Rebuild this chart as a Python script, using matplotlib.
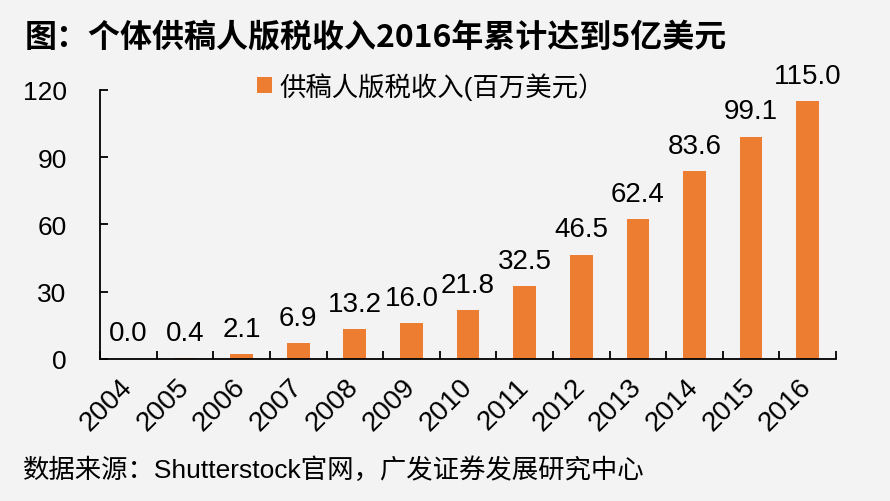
import matplotlib
matplotlib.use("Agg")
import matplotlib.pyplot as plt
import numpy as np

# data
years = ['2004', '2005', '2006', '2007', '2008', '2009', '2010',
         '2011', '2012', '2013', '2014', '2015', '2016']
revenue = [0.0, 0.4, 2.1, 6.9, 13.2, 16.0, 21.8, 32.5, 46.5, 62.4, 83.6, 99.1, 115.0]
yticks = [0, 30, 60, 90, 120]

title = '图：个体供稿人版税收入2016年累计达到5亿美元'
series_name = '供稿人版税收入(百万美元）'
source = '数据来源：Shutterstock官网，广发证券发展研究中心'

bg = '#f3f3f3'
orange = '#ed7d31'
fonts = ['Liberation Sans', 'Noto Sans CJK SC', 'DejaVu Sans']
plt.rcParams['font.family'] = fonts

fig = plt.figure(figsize=(8.9, 5.02), dpi=100, facecolor=bg)
ax = fig.add_axes([0.1124, 0.283, 0.8270, 0.536], facecolor=bg)

x = np.arange(len(years))
bars = ax.bar(x, revenue, width=0.4, color=orange, label=series_name, zorder=2)

for xi, v in zip(x, revenue):
    ax.annotate(f'{v:.1f}', (xi, v), xytext=(0, 9), textcoords='offset points',
                ha='center', va='bottom', fontsize=20, color='black')

ax.set_xlim(-0.5, len(years) - 0.5)
ax.set_ylim(0, 120)
ax.set_yticks(yticks)
ax.tick_params(axis='y', direction='in', length=6, width=1.3, pad=24, labelsize=19)

ax.set_xticks(x)
ax.set_xticklabels(years, rotation=45, ha='right', va='center', rotation_mode='anchor')
ax.tick_params(axis='x', which='major', length=0, pad=17, labelsize=20)
ax.set_xticks(np.arange(len(years) + 1) - 0.5, minor=True)
ax.tick_params(axis='x', which='minor', direction='in', length=6, width=1.3)

for s in ['top', 'right']:
    ax.spines[s].set_visible(False)
for s in ['left', 'bottom']:
    ax.spines[s].set_linewidth(1.3)

leg = ax.legend(loc='upper center', bbox_to_anchor=(0.45, 1.155), frameon=False,
                fontsize=19, handlelength=0.55, handleheight=0.55, handletextpad=0.3)

fig.text(0.028, 0.925, title, fontsize=23, fontweight='bold', ha='left', va='center',
         family=['Noto Sans CJK SC', 'DejaVu Sans'])
fig.text(0.026, 0.063, source, fontsize=19, ha='left', va='center', family=fonts)

fig.savefig('out.png', dpi=100, facecolor=bg)
